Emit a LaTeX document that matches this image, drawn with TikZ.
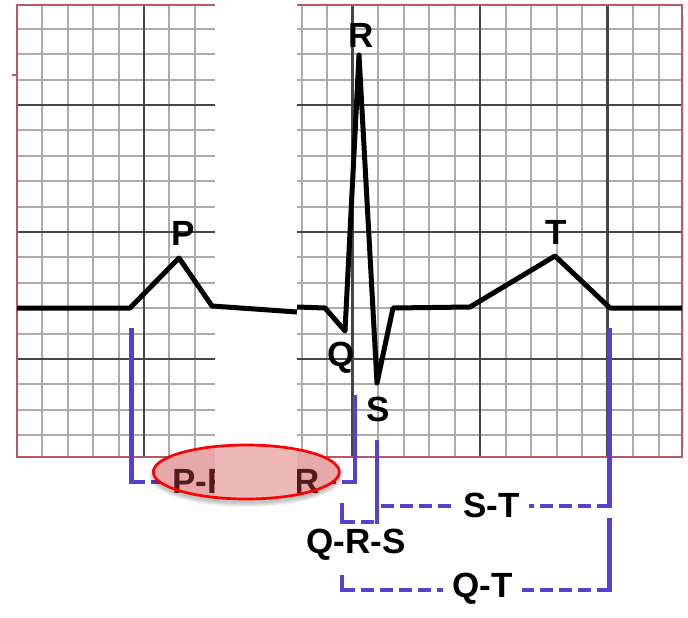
\documentclass[tikz,border=0pt]{standalone}
\usepackage{fontspec}
\setmainfont{Liberation Sans}
\definecolor{gridminor}{RGB}{172,172,172}
\definecolor{gridmajor}{RGB}{70,70,70}
\definecolor{framecol}{RGB}{180,90,100}
\definecolor{bracketcol}{RGB}{85,65,205}
\definecolor{ovalfill}{RGB}{230,168,168}
\definecolor{ovalgap}{RGB}{238,184,184}
\definecolor{ovaltext}{RGB}{80,28,28}
\begin{document}
\begin{tikzpicture}[x=1pt,y=-1pt,
  minorgrid/.style={draw=gridminor, line width=2pt},
  majorgrid/.style={draw=gridmajor, line width=2.4pt},
  framestyle/.style={draw=framecol, line width=2pt},
  trace/.style={draw=black, line width=5pt, line join=round},
  bsolid/.style={draw=bracketcol, line width=4.2pt, line cap=rect},
  bdash/.style={draw=bracketcol, line width=4.2pt, dash pattern=on 13pt off 6pt},
  lab/.style={font=\fontsize{35}{40}\selectfont\bfseries, inner sep=0pt},
  ovalshape/.style={x radius=93pt, y radius=27pt}]
\useasboundingbox (0,0) rectangle (688,618);
% grid
\foreach \y in {28.8,54.2,79.6,130.4,155.8,181.2,206.6,257.4,282.8,308.2,333.6,384.4,409.8,435.2}
  \draw[minorgrid] (17,\y) -- (682,\y);
\foreach \x in {42.4,67.8,93.2,118.6,169.4,194.8,301.5,327,378,403.5,429,454.5,505.5,531,556.5,582,633,658.5}
  \draw[minorgrid] (\x,5) -- (\x,457);
\foreach \y in {105,232,359}
  \draw[majorgrid] (17,\y) -- (682,\y);
\foreach \x in {144,352.5,480,607.5}
  \draw[majorgrid] (\x,5) -- (\x,457);
\draw[framestyle] (17,5) rectangle (682,457);
\draw[framestyle] (12,75) -- (17,75);
% white gap
\fill[white] (215,-2) rectangle (297,462);
% ECG trace
\draw[trace] (17,308) -- (130,308) -- (179,258) -- (212,306) -- (297,312);
\draw[trace] (297,307) -- (325,308) -- (345,331) -- (359,55) -- (377,383) -- (393,308) -- (470,307) -- (555,256) -- (610,308) -- (682,308);
% wave labels
\node[lab] (lR) at (361,35) {R};
\node[lab] (lP) at (183,233) {P};
\node[lab] (lT) at (556,232) {T};
\node[lab] (lQ) at (341,358) {Q};
\node[lab] (lS) at (378.5,409.5) {S};
% interval labels
\node[lab] (qrs) at (356,545) {Q-R-S};
\node[lab, inner xsep=9pt] (st) at (491.7,505) {S-T};
\node[lab, inner xsep=9pt] (qt) at (482.5,589) {Q-T};
% brackets
\coordinate (prA) at (131.5,330);
\coordinate (prB) at (131.5,482);
\coordinate (prL) at (162,482);
\coordinate (prR) at (330,482);
\coordinate (prC) at (355,482);
\coordinate (prD) at (355,397);
\draw[bsolid] (prA) -- (prB);
\draw[bdash] (prB) -- (prL);
\draw[bdash] (prC) -- (prR);
\draw[bsolid] (prC) -- (prD);
\coordinate (sA) at (377,442);
\coordinate (sB) at (377,522);
\coordinate (qrsA) at (342,505);
\coordinate (qrsB) at (342,522);
\draw[bsolid] (sA) -- (sB);
\draw[bsolid] (qrsA) -- (qrsB);
\draw[bdash] (qrsB) -- (sB);
\coordinate (stL) at (381,506);
\coordinate (tA) at (609.5,330);
\coordinate (tB) at (609.5,506);
\draw[bsolid] (tA) -- (tB);
\draw[bdash] (stL) -- (st.west |- stL);
\draw[bdash] (tB) -- (st.east |- tB);
\coordinate (qtA) at (609.5,520);
\coordinate (qtB) at (609.5,590);
\coordinate (qtC) at (342,590);
\coordinate (qtD) at (342,577);
\draw[bsolid] (qtA) -- (qtB);
\draw[bsolid] (qtD) -- (qtC);
\draw[bdash] (qtC) -- (qt.west |- qtC);
\draw[bdash] (qtB) -- (qt.east |- qtB);
% highlighted oval
\coordinate (ov) at (246.3,472);
\foreach \s in {1,2,3,4,5}
  \fill[black, opacity=0.05] ([yshift=-4pt]ov) ellipse [x radius=92pt+\s pt, y radius=26pt+\s pt];
\fill[ovalfill] (ov) ellipse [ovalshape];
\node[lab, anchor=base west, text=ovaltext] (prtxt) at (172.2,493) {P-R};
\node[lab, anchor=base, text=ovaltext] (prtxt2) at (307.5,493) {R};
\begin{scope}
  \clip (ov) ellipse [ovalshape];
  \fill[ovalgap] (215,440) rectangle (297,505);
\end{scope}
\draw[red, line width=2.7pt] (ov) ellipse [ovalshape];
\end{tikzpicture}
\end{document}
